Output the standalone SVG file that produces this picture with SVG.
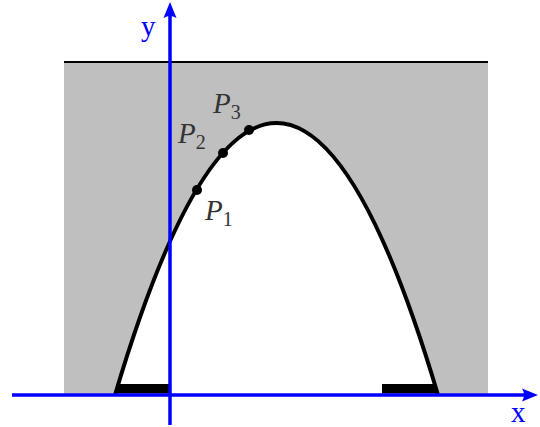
<svg xmlns="http://www.w3.org/2000/svg" width="540" height="427" viewBox="0 0 540 427">
<style>
.lbl{font-family:"Liberation Serif","DejaVu Serif",serif;font-style:italic;fill:#333;font-size:29px}
.sub{font-size:20px;font-style:normal}
.ax{font-family:"Liberation Serif","DejaVu Serif",serif;fill:#0000ff;font-size:29px}
.axis{stroke:#0000ff;stroke-width:3.5;fill:none}
.head{fill:#0000ff}
.dot{fill:#000}
</style>
<rect id="region" x="64" y="62" width="424" height="333" fill="#bfbfbf"/>
<path id="inside" d="M115,395 Q276.5,-149 438,395 Z" fill="#fff"/>
<line id="topline" x1="64" y1="62" x2="488" y2="62" stroke="#000" stroke-width="2"/>
<path id="curve" d="M115,395 Q276.5,-149 438,395" fill="none" stroke="#000" stroke-width="4"/>
<rect id="barL" x="116" y="384" width="53" height="9.5" fill="#000"/>
<rect id="barR" x="382" y="384" width="54" height="9.5" fill="#000"/>
<g id="connectors">
<line class="axis" x1="12" y1="395" x2="526" y2="395"/>
<path class="head" d="M538,395 L522,388.5 Q526,395 522,401.5 Z"/>
<line class="axis" x1="170" y1="425" x2="170" y2="14"/>
<path class="head" d="M170,2 L163.5,18 Q170,14 176.5,18 Z"/>
</g>
<g id="P1"><circle class="dot" cx="197" cy="190" r="5"/><text class="lbl" x="205" y="220">P<tspan class="sub" dy="6">1</tspan></text></g>
<g id="P2"><circle class="dot" cx="223" cy="153" r="5"/><text class="lbl" x="178" y="143">P<tspan class="sub" dy="6">2</tspan></text></g>
<g id="P3"><circle class="dot" cx="249" cy="130" r="5"/><text class="lbl" x="213" y="113">P<tspan class="sub" dy="6">3</tspan></text></g>
<text id="ylabel" class="ax" x="141" y="36">y</text>
<text id="xlabel" class="ax" x="511" y="422">x</text>
</svg>
